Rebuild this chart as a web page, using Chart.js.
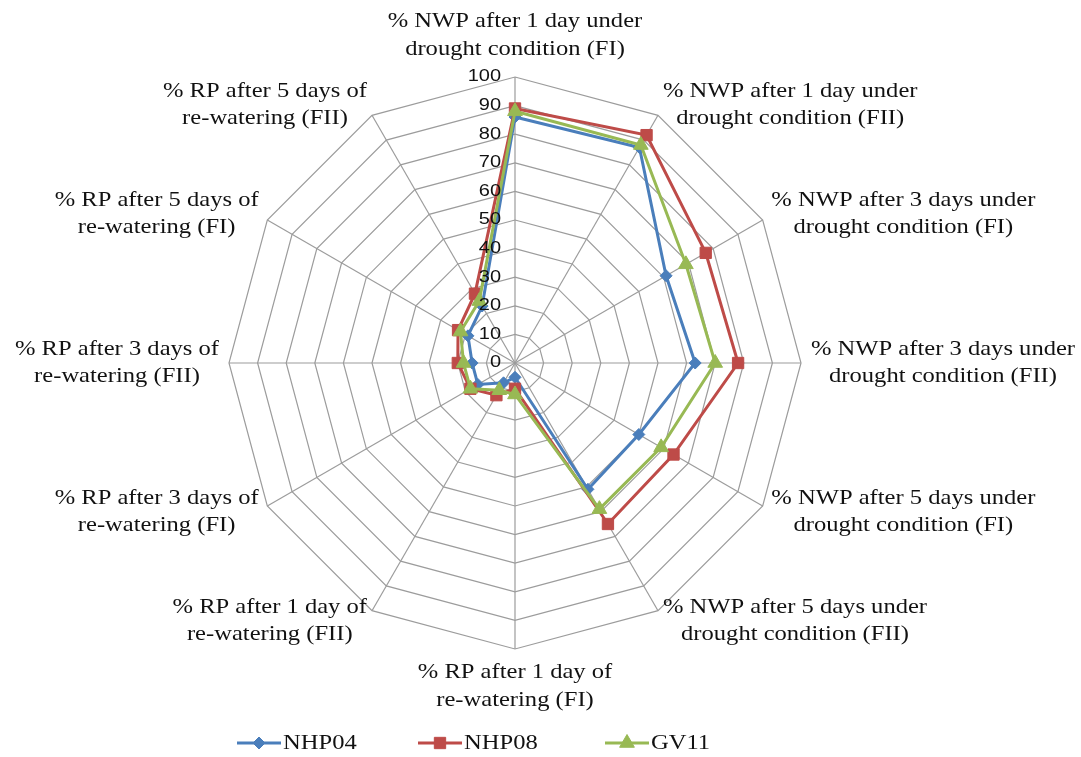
<!DOCTYPE html>
<html>
<head>
<meta charset="utf-8">
<title>Radar - NWP / RP</title>
<script src="https://cdn.jsdelivr.net/npm/chart.js@4.4.1/dist/chart.umd.min.js"></script>
<style>
  html, body { margin: 0; padding: 0; background: #fff; }
  #wrap { width: 1081px; height: 757px; }
</style>
</head>
<body>
<div id="wrap"><canvas id="radarChart" width="1081" height="757"></canvas></div>
<script>
// axis labels, clockwise from the top
const axisLabels = [
    ['% NWP after 1 day under', 'drought condition (FI)'],
    ['% NWP after 1 day under', 'drought condition (FII)'],
    ['% NWP after 3 days under', 'drought condition (FI)'],
    ['% NWP after 3 days under', 'drought condition (FII)'],
    ['% NWP after 5 days under', 'drought condition (FI)'],
    ['% NWP after 5 days under', 'drought condition (FII)'],
    ['% RP after 1 day of', 're-watering (FI)'],
    ['% RP after 1 day of', 're-watering (FII)'],
    ['% RP after 3 days of', 're-watering (FI)'],
    ['% RP after 3 days of', 're-watering (FII)'],
    ['% RP after 5 days of', 're-watering (FI)'],
    ['% RP after 5 days of', 're-watering (FII)']
];

const tickValues = [0, 10, 20, 30, 40, 50, 60, 70, 80, 90, 100];

const seriesNames = ['NHP04', 'NHP08', 'GV11'];
const nhp04Values = [86, 87, 61, 63, 50, 51, 5, 8, 15, 15, 19, 23];
const nhp08Values = [89, 92, 77, 78, 64, 65, 9, 13, 18, 20, 23, 28];
const gv11Values  = [88, 88, 69, 70, 59, 59, 11, 11, 18, 18, 22, 25];

const colors = {
    blue: '#4A7EBB',
    red: '#BE4B48',
    green: '#98B954',
    grid: '#9c9c9c',
    text: '#111111'
};

const serifFont = '21px "Liberation Serif", "Times New Roman", serif';
const tickFont = '16px "Liberation Sans", Arial, sans-serif';
const stretchX = 1.17;

// text in the picture is a bit wide, so draw it stretched
const fillWide = (ctx, text, x, y, align, sx) => {
    ctx.save();
    ctx.translate(x, y);
    ctx.scale(sx, 1);
    ctx.textAlign = align;
    ctx.fillText(text, 0, 0);
    ctx.restore();
};

const axisLabelPlugin = {
    id: 'axisLabelPlugin',
    afterDraw(chart) {
        const scale = chart.scales.r;
        const ctx = chart.ctx;
        const lineH = 27.5;
        ctx.save();
        ctx.font = serifFont;
        ctx.fillStyle = colors.text;
        ctx.textBaseline = 'middle';
        axisLabels.forEach((lines, i) => {
            const pt = scale.getPointPosition(i, scale.drawingArea);
            const a = pt.angle + Math.PI / 2;
            const s = Math.sin(a), c = Math.cos(a);
            const w = Math.max(...lines.map(l => ctx.measureText(l).width)) * stretchX;
            const h = lines.length * lineH;
            let cx, cy;
            if (Math.abs(s) < 0.01) {
                cx = pt.x;
                cy = c > 0 ? pt.y - 14 - h / 2 : pt.y + 10 + h / 2;
            } else {
                const gap = 10 * Math.abs(s);
                cx = s > 0 ? pt.x + gap + w / 2 : pt.x - gap - w / 2;
                cy = pt.y - c * 12;
            }
            lines.forEach((l, k) => {
                fillWide(ctx, l, cx, cy - h / 2 + lineH * (k + 0.5), 'center', stretchX);
            });
        });
        ctx.restore();
    }
};

const tickLabelPlugin = {
    id: 'tickLabelPlugin',
    afterDraw(chart) {
        const scale = chart.scales.r;
        const ctx = chart.ctx;
        ctx.save();
        ctx.font = tickFont;
        ctx.fillStyle = colors.text;
        ctx.textBaseline = 'middle';
        tickValues.forEach(v => {
            const d = scale.getDistanceFromCenterForValue(v);
            fillWide(ctx, String(v), scale.xCenter - 14, scale.yCenter - d, 'right', 1.25);
        });
        ctx.restore();
    }
};

const legendPlugin = {
    id: 'legendPlugin',
    afterDraw(chart) {
        const ctx = chart.ctx;
        const y = 743;
        const starts = [237, 418, 605];
        ctx.save();
        ctx.font = serifFont;
        ctx.textBaseline = 'middle';
        chart.data.datasets.forEach((ds, i) => {
            const x0 = starts[i];
            ctx.strokeStyle = ds.borderColor;
            ctx.lineWidth = ds.borderWidth;
            ctx.beginPath();
            ctx.moveTo(x0, y);
            ctx.lineTo(x0 + 44, y);
            ctx.stroke();
            ctx.fillStyle = ds.pointBackgroundColor;
            ctx.strokeStyle = ds.pointBorderColor;
            ctx.lineWidth = 1;
            Chart.helpers.drawPoint(ctx, {
                pointStyle: ds.pointStyle,
                radius: ds.pointRadius,
                rotation: 0,
                borderWidth: 1
            }, x0 + 22, y);
            ctx.fillStyle = colors.text;
            fillWide(ctx, ds.label, x0 + 46, y, 'left', stretchX);
        });
        ctx.restore();
    }
};

const makeDataset = (label, values, color, style, radius, order) => ({
    label: label,
    data: values,
    borderColor: color,
    backgroundColor: color,
    pointBackgroundColor: color,
    pointBorderColor: color,
    pointStyle: style,
    pointRadius: radius,
    pointBorderWidth: 1,
    borderWidth: 3,
    fill: false,
    order: order
});

const chartCtx = document.getElementById('radarChart').getContext('2d');

new Chart(chartCtx, {
    type: 'radar',
    data: {
        labels: axisLabels.map(l => l.join(' ')),
        datasets: [
            makeDataset(seriesNames[0], nhp04Values, colors.blue, 'rectRot', 6, 3),
            makeDataset(seriesNames[1], nhp08Values, colors.red, 'rect', 8, 2),
            makeDataset(seriesNames[2], gv11Values, colors.green, 'triangle', 8.5, 1)
        ]
    },
    options: {
        responsive: false,
        animation: false,
        layout: { padding: { left: 229, right: 280, top: 77, bottom: 108 } },
        plugins: {
            legend: { display: false },
            tooltip: { enabled: false }
        },
        elements: { line: { tension: 0 } },
        scales: {
            r: {
                min: 0,
                max: 100,
                ticks: { stepSize: 10, display: false },
                pointLabels: { display: false },
                grid: { color: colors.grid, lineWidth: 1.2 },
                angleLines: { color: colors.grid, lineWidth: 1.2 }
            }
        }
    },
    plugins: [axisLabelPlugin, tickLabelPlugin, legendPlugin]
});
</script>
</body>
</html>
